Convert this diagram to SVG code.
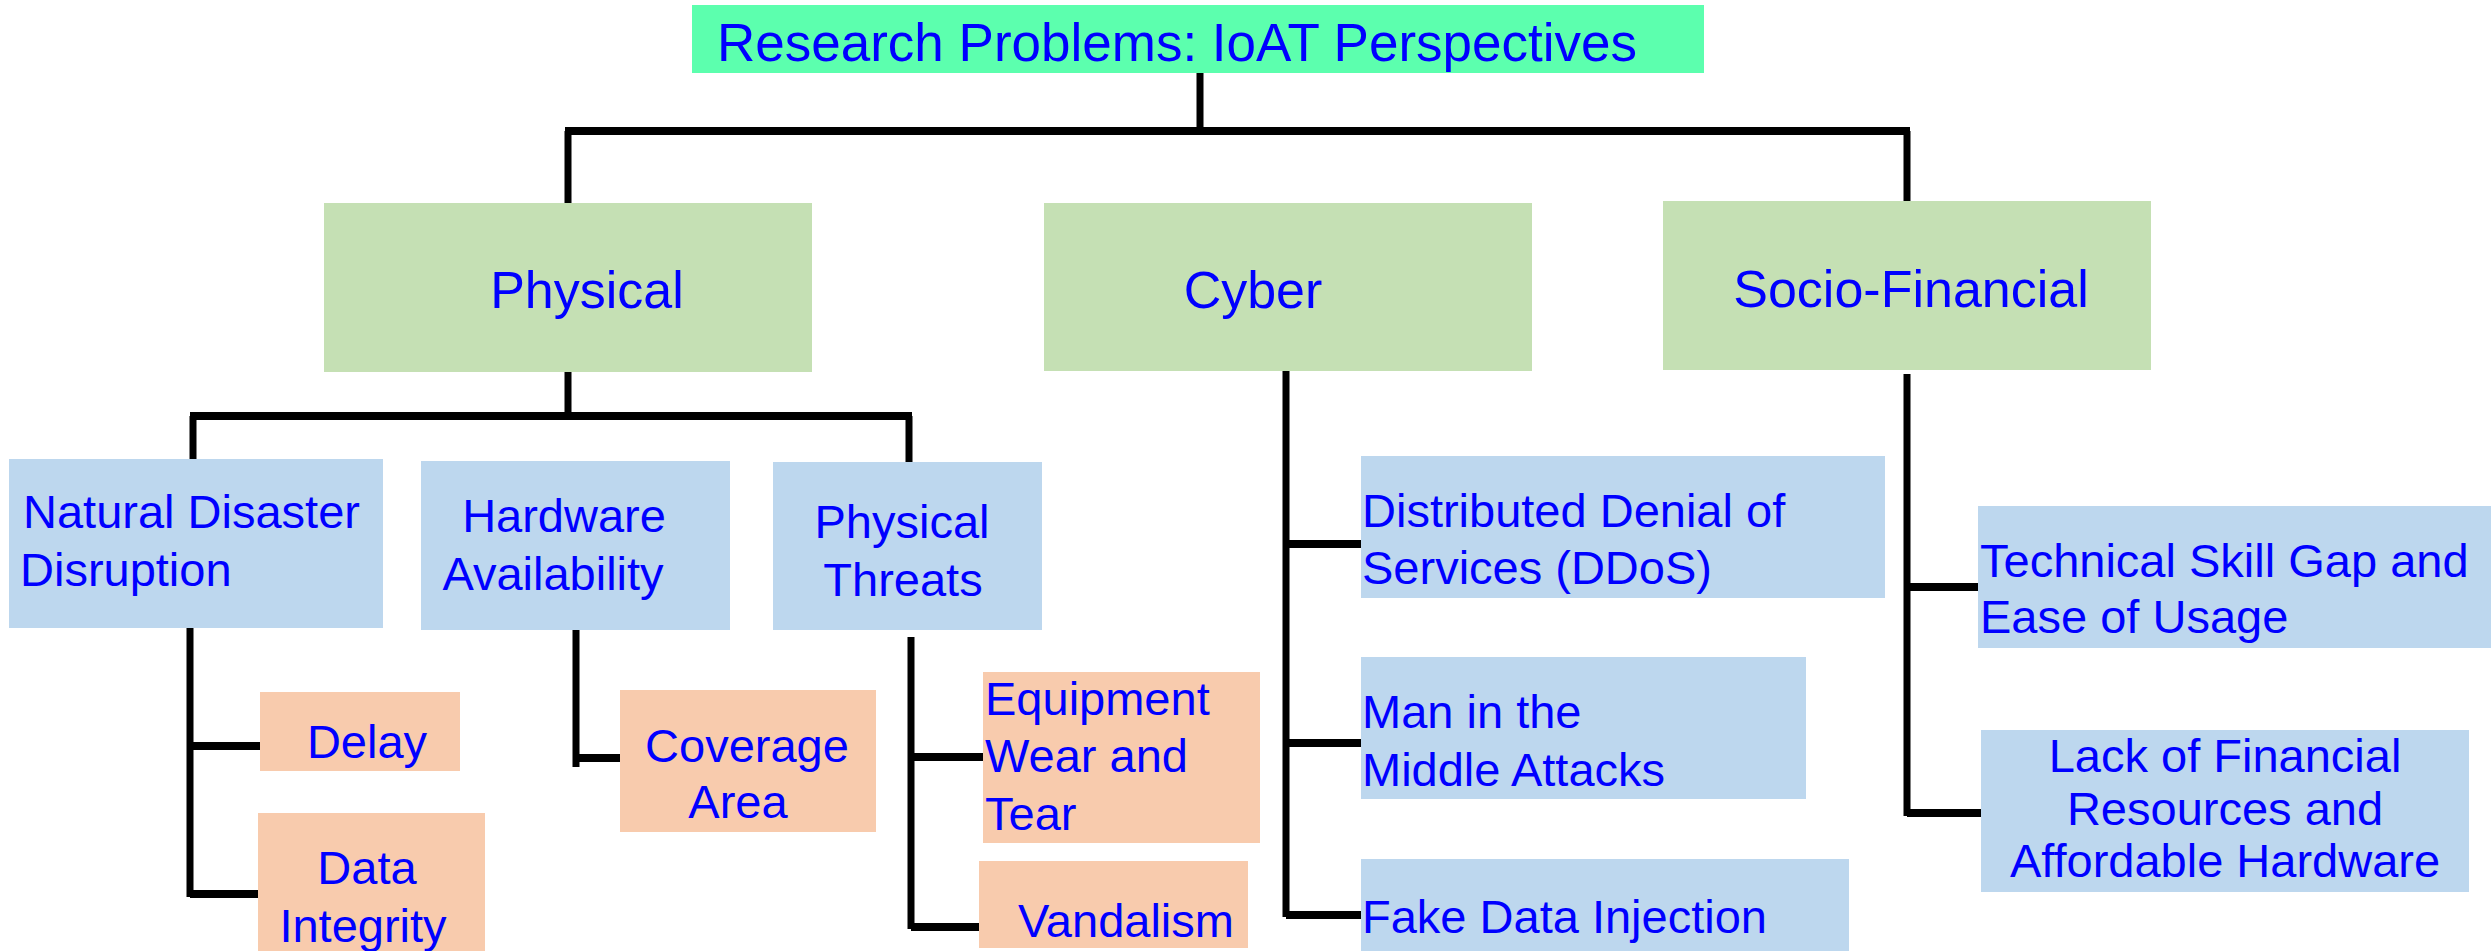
<svg xmlns="http://www.w3.org/2000/svg" width="2491" height="951" viewBox="0 0 2491 951">
<style>
text{font-family:"Liberation Sans",Arial,sans-serif;fill:#0000FF;font-size:47px}
.big{font-size:52px}
.ttl{font-size:53px}
.mid{text-anchor:middle}
.title{fill:#5CFFAE}
.cat{fill:#C5E0B4}
.sub{fill:#BDD7EE}
.leaf{fill:#F8CBAD}
.conn path{stroke:#000;stroke-width:7;fill:none}
.conn path.h{stroke-width:8}
</style>
<rect width="2491" height="951" fill="#fff"/>
<g class="conn" id="connectors">
<path d="M1200,58 V131 M568,131 V203 M1907,131 V201"/>
<path class="h" d="M565,131 H1910"/>
<path d="M568,372 V416 M193,416 V459 M909,416 V462"/>
<path class="h" d="M190,416 H912"/>
<path d="M190,628 V897"/>
<path class="h" d="M190,746 H260 M190,894 H258"/>
<path d="M576,627 V767"/>
<path class="h" d="M576,758 H620"/>
<path d="M911,637 V929"/>
<path class="h" d="M911,757 H983 M911,927 H979"/>
<path d="M1286,371 V917"/>
<path class="h" d="M1286,544 H1361 M1286,743 H1361 M1286,915 H1361"/>
<path d="M1907,374 V816"/>
<path class="h" d="M1907,587 H1978 M1907,813 H1981"/>
</g>
<g id="root"><rect class="title" x="692" y="5" width="1012" height="68"/><text class="ttl" x="717" y="61">Research Problems: IoAT Perspectives</text></g>
<g id="physical"><rect class="cat" x="324" y="203" width="488" height="169"/><text class="big mid" x="587" y="308">Physical</text></g>
<g id="cyber"><rect class="cat" x="1044" y="203" width="488" height="168"/><text class="big mid" x="1253" y="308">Cyber</text></g>
<g id="socio"><rect class="cat" x="1663" y="201" width="488" height="169"/><text class="big mid" x="1911" y="307">Socio-Financial</text></g>
<g id="natural"><rect class="sub" x="9" y="459" width="374" height="169"/><text x="23" y="528">Natural Disaster</text><text x="20" y="586">Disruption</text></g>
<g id="hardware"><rect class="sub" x="421" y="461" width="309" height="169"/><text class="mid" x="564" y="532">Hardware</text><text class="mid" x="553" y="590">Availability</text></g>
<g id="threats"><rect class="sub" x="773" y="462" width="269" height="168"/><text class="mid" x="902" y="538">Physical</text><text class="mid" x="903" y="596">Threats</text></g>
<g id="delay"><rect class="leaf" x="260" y="692" width="200" height="79"/><text class="mid" x="367" y="758">Delay</text></g>
<g id="integrity"><rect class="leaf" x="258" y="813" width="227" height="138"/><text class="mid" x="367" y="884">Data</text><text class="mid" x="363" y="942">Integrity</text></g>
<g id="coverage"><rect class="leaf" x="620" y="690" width="256" height="142"/><text class="mid" x="747" y="762">Coverage</text><text class="mid" x="738" y="818">Area</text></g>
<g id="equipment"><rect class="leaf" x="983" y="672" width="277" height="171"/><text x="985" y="715">Equipment</text><text x="985" y="772">Wear and</text><text x="985" y="830">Tear</text></g>
<g id="vandalism"><rect class="leaf" x="979" y="861" width="269" height="87"/><text x="1018" y="937">Vandalism</text></g>
<g id="ddos"><rect class="sub" x="1361" y="456" width="524" height="142"/><text x="1362" y="527">Distributed Denial of</text><text x="1362" y="584">Services (DDoS)</text></g>
<g id="mitm"><rect class="sub" x="1361" y="657" width="445" height="142"/><text x="1362" y="728">Man in the</text><text x="1362" y="786">Middle Attacks</text></g>
<g id="fdi"><rect class="sub" x="1361" y="859" width="488" height="92"/><text x="1362" y="933">Fake Data Injection</text></g>
<g id="skill"><rect class="sub" x="1978" y="506" width="513" height="142"/><text x="1980" y="577">Technical Skill Gap and</text><text x="1980" y="633">Ease of Usage</text></g>
<g id="finance"><rect class="sub" x="1981" y="730" width="488" height="162"/><text class="mid" x="2225" y="772">Lack of Financial</text><text class="mid" x="2225" y="825">Resources and</text><text class="mid" x="2225" y="877">Affordable Hardware</text></g>
</svg>
